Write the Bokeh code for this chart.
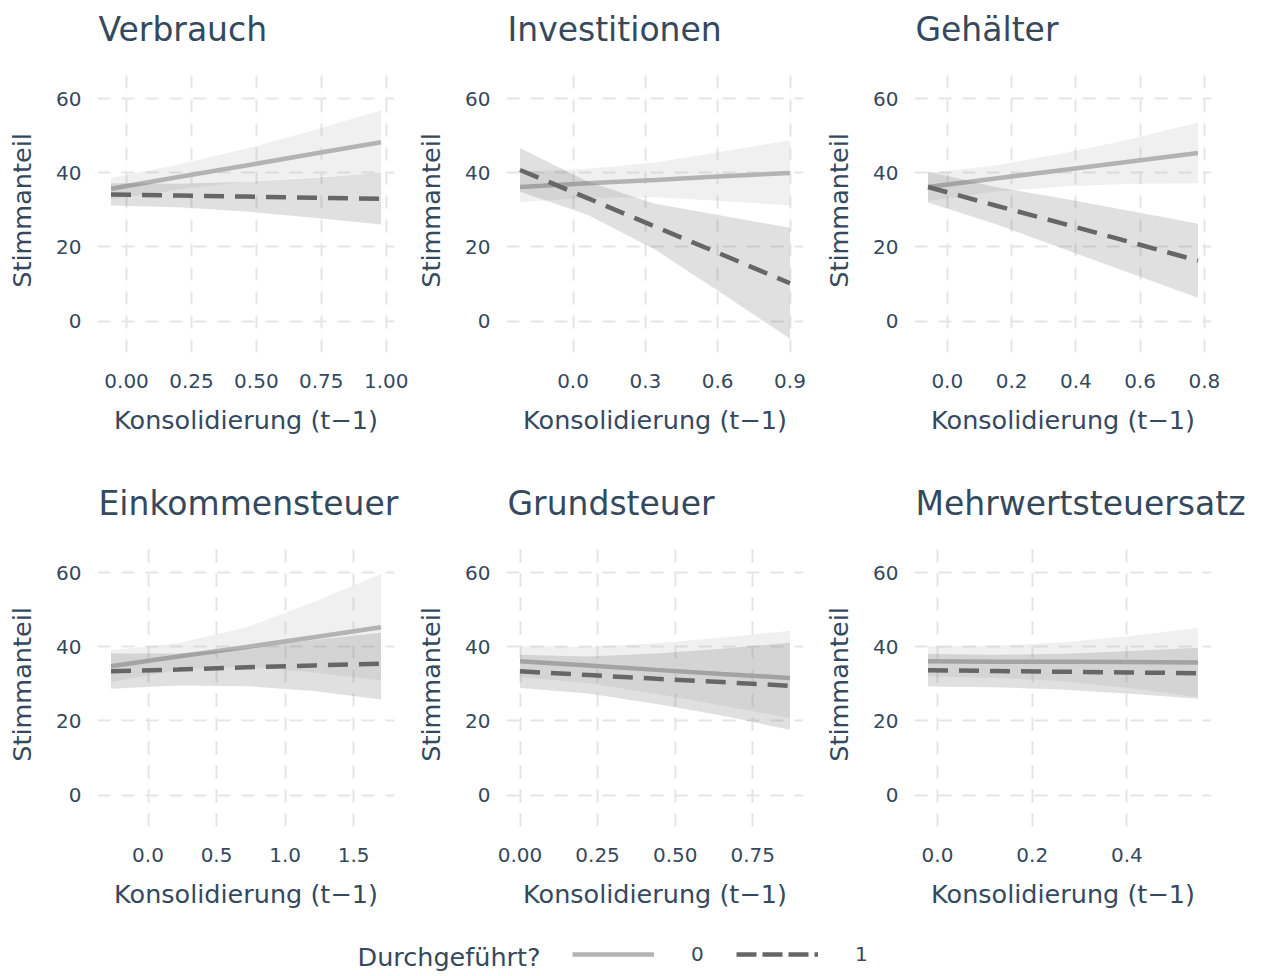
from bokeh.plotting import figure
from bokeh.layouts import row, column
from bokeh.models import Range1d, FixedTicker, Legend, LegendItem, Label, Title
from bokeh.embed import file_html
from bokeh.resources import INLINE

FONT = "DejaVu Sans"
TXT = "#34495E"
C0 = "#B3B3B3"
C1 = "#666666"

# ---------------- data ----------------
titles = ["Verbrauch", "Investitionen", "Gehälter",
          "Einkommensteuer", "Grundsteuer", "Mehrwertsteuersatz"]
group_labels = ["0", "1"]
legend_title = "Durchgeführt?"
x_label = "Konsolidierung (t\u22121)"
y_label = "Stimmanteil"

y_ticks = [0, 20, 40, 60]

# Verbrauch
x_verb = [-0.06, 0.20, 0.46, 0.72, 0.98]
fit0_verb = [35.7, 38.9, 42.0, 45.2, 48.3]
lo0_verb = [32.8, 35.5, 37.7, 38.9, 39.7]
hi0_verb = [38.6, 42.3, 46.5, 51.5, 56.9]
fit1_verb = [34.2, 33.9, 33.6, 33.3, 33.0]
lo1_verb = [31.2, 30.7, 29.6, 27.9, 26.1]
hi1_verb = [37.2, 37.1, 37.6, 38.7, 39.9]
ticks_verb = [0, 0.25, 0.5, 0.75, 1.0]
labels_verb = ["0.00", "0.25", "0.50", "0.75", "1.00"]

# Investitionen
x_inv = [-0.22, 0.06, 0.34, 0.62, 0.90]
fit0_inv = [36.2, 37.2, 38.1, 39.1, 40.0]
lo0_inv = [32.1, 33.3, 33.4, 32.4, 31.2]
hi0_inv = [40.3, 41.1, 42.8, 45.8, 48.8]
fit1_inv = [40.8, 33.2, 25.5, 17.9, 10.2]
lo1_inv = [34.9, 28.7, 19.3, 7.4, -4.8]
hi1_inv = [46.7, 37.7, 31.7, 28.4, 25.2]
ticks_inv = [0, 0.3, 0.6, 0.9]
labels_inv = ["0.0", "0.3", "0.6", "0.9"]

# Gehälter
x_geh = [-0.06, 0.15, 0.36, 0.57, 0.78]
fit0_geh = [36.2, 38.5, 40.8, 43.1, 45.4]
lo0_geh = [32.4, 35.0, 36.3, 37.1, 37.2]
hi0_geh = [40.0, 42.0, 45.3, 49.1, 53.6]
fit1_geh = [36.2, 31.2, 26.3, 21.3, 16.3]
lo1_geh = [32.0, 26.2, 19.5, 12.9, 6.3]
hi1_geh = [40.4, 36.2, 33.1, 29.7, 26.3]
ticks_geh = [0, 0.2, 0.4, 0.6, 0.8]
labels_geh = ["0.0", "0.2", "0.4", "0.6", "0.8"]

# Einkommensteuer
x_ek = [-0.27, 0.22, 0.72, 1.21, 1.70]
fit0_ek = [34.8, 37.4, 40.0, 42.6, 45.3]
lo0_ek = [30.5, 33.8, 34.7, 33.1, 30.9]
hi0_ek = [39.1, 41.0, 45.3, 52.1, 59.7]
fit1_ek = [33.4, 33.9, 34.5, 35.0, 35.5]
lo1_ek = [28.7, 29.6, 29.4, 28.1, 25.8]
hi1_ek = [38.2, 38.2, 39.6, 41.9, 43.8]
ticks_ek = [0, 0.5, 1.0, 1.5]
labels_ek = ["0.0", "0.5", "1.0", "1.5"]

# Grundsteuer
x_gr = [0.00, 0.22, 0.44, 0.65, 0.87]
fit0_gr = [36.1, 35.0, 33.8, 32.7, 31.6]
lo0_gr = [31.9, 30.2, 27.3, 24.2, 20.8]
hi0_gr = [40.3, 40.0, 41.0, 42.5, 44.4]
fit1_gr = [33.4, 32.4, 31.4, 30.5, 29.5]
lo1_gr = [28.9, 27.4, 24.6, 21.5, 17.6]
hi1_gr = [37.9, 37.4, 38.2, 39.5, 41.1]
ticks_gr = [0, 0.25, 0.5, 0.75]
labels_gr = ["0.00", "0.25", "0.50", "0.75"]

# Mehrwertsteuersatz
x_mw = [-0.02, 0.12, 0.26, 0.40, 0.55]
fit0_mw = [36.1, 36.0, 36.0, 35.9, 35.8]
lo0_mw = [32.0, 31.7, 30.8, 29.0, 26.5]
hi0_mw = [40.2, 40.3, 41.2, 42.8, 45.1]
fit1_mw = [33.7, 33.5, 33.3, 33.1, 32.9]
lo1_mw = [29.3, 29.1, 28.5, 27.4, 26.0]
hi1_mw = [38.1, 37.9, 38.1, 38.8, 39.8]
ticks_mw = [0, 0.2, 0.4]
labels_mw = ["0.0", "0.2", "0.4"]

Y_MIN, Y_MAX = -8.5, 68.2
FW, FH = 297, 284


def make_panel(title, xs, fit0, lo0, hi0, fit1, lo1, hi1, ticks, labels,
               col, rowi):
    span = max(xs) - min(xs)
    xr = Range1d(min(xs) - 0.05 * span, max(xs) + 0.05 * span)
    left = [97, 96, 96][col]
    right = [16, 15, 53][col]
    top = 68 if rowi == 0 else 62
    bottom = 128 if rowi == 0 else 90
    p = figure(frame_width=FW, frame_height=FH, x_range=xr,
               y_range=Range1d(Y_MIN, Y_MAX),
               output_backend="svg", toolbar_location=None,
               min_border_left=left, min_border_right=right,
               min_border_top=top, min_border_bottom=bottom)
    p.outline_line_color = None
    p.background_fill_color = "white"

    # panel title: a blank spacer title next to the frame, the visible title above it
    p.add_layout(Title(text=" ", text_font_size="1px", standoff=17), "above")
    p.add_layout(Title(text=title, text_font=FONT, text_font_size="33px",
                       text_font_style="normal", text_color=TXT,
                       align="left", vertical_align="bottom",
                       standoff=0, offset=1), "above")

    # ribbons + lines (group 0, then group 1)
    p.varea(x=xs, y1=lo0, y2=hi0, fill_color=C0, fill_alpha=0.2)
    p.line(x=xs, y=fit0, line_color=C0, line_width=4.5)
    p.varea(x=xs, y1=lo1, y2=hi1, fill_color=C1, fill_alpha=0.2)
    p.line(x=xs, y=fit1, line_color=C1, line_width=4.5, line_dash="20 11")

    # axes
    p.xaxis.ticker = FixedTicker(ticks=ticks)
    p.xaxis.major_label_overrides = {t: l for t, l in zip(ticks, labels)}
    p.yaxis.ticker = FixedTicker(ticks=y_ticks)
    p.xaxis.axis_label = x_label
    p.yaxis.axis_label = y_label
    for ax in (p.xaxis[0], p.yaxis[0]):
        ax.axis_line_color = None
        ax.major_tick_line_color = None
        ax.minor_tick_line_color = None
        ax.major_tick_out = 0
        ax.major_tick_in = 0
        ax.major_label_text_font = FONT
        ax.major_label_text_font_size = "20px"
        ax.major_label_text_color = TXT
        ax.axis_label_text_font = FONT
        ax.axis_label_text_font_size = "25.5px"
        ax.axis_label_text_font_style = "normal"
        ax.axis_label_text_color = TXT
    p.xaxis.major_label_standoff = 21
    p.xaxis.axis_label_standoff = 14
    p.yaxis.major_label_standoff = 16
    p.yaxis.axis_label_standoff = 16

    p.grid.grid_line_color = "#E5E5E5"
    p.grid.grid_line_width = 2
    p.grid.grid_line_dash = "13 11"
    p.grid.minor_grid_line_color = None
    return p


panels = [
    (titles[0], x_verb, fit0_verb, lo0_verb, hi0_verb, fit1_verb, lo1_verb, hi1_verb, ticks_verb, labels_verb),
    (titles[1], x_inv, fit0_inv, lo0_inv, hi0_inv, fit1_inv, lo1_inv, hi1_inv, ticks_inv, labels_inv),
    (titles[2], x_geh, fit0_geh, lo0_geh, hi0_geh, fit1_geh, lo1_geh, hi1_geh, ticks_geh, labels_geh),
    (titles[3], x_ek, fit0_ek, lo0_ek, hi0_ek, fit1_ek, lo1_ek, hi1_ek, ticks_ek, labels_ek),
    (titles[4], x_gr, fit0_gr, lo0_gr, hi0_gr, fit1_gr, lo1_gr, hi1_gr, ticks_gr, labels_gr),
    (titles[5], x_mw, fit0_mw, lo0_mw, hi0_mw, fit1_mw, lo1_mw, hi1_mw, ticks_mw, labels_mw),
]

figs = []
for i, args in enumerate(panels):
    figs.append(make_panel(*args, col=i % 3, rowi=i // 3))

# ---------------- legend strip ----------------
LW, LH = 1264, 60
leg = figure(width=LW, height=LH, x_range=Range1d(0, LW), y_range=Range1d(0, LH),
             output_backend="svg", toolbar_location=None,
             x_axis_location=None, y_axis_location=None, min_border=0)
leg.grid.visible = False
leg.outline_line_color = None
# legend key renderers (their points lie outside the visible strip)
r0 = leg.line(x=[-50, -40], y=[-50, -50], line_color=C0, line_width=4.5)
r1 = leg.line(x=[-50, -40], y=[-50, -50], line_color=C1, line_width=4.5,
              line_dash="20 6")
legend = Legend(items=[LegendItem(label=group_labels[0], renderers=[r0]),
                       LegendItem(label=group_labels[1], renderers=[r1])],
                orientation="horizontal", location=(572, 10),
                glyph_width=82, glyph_height=20, label_standoff=37, spacing=25,
                padding=0, margin=0, border_line_color=None,
                background_fill_alpha=0,
                label_text_font=FONT, label_text_font_size="20px",
                label_text_color=TXT)
leg.add_layout(legend)
leg.add_layout(Label(x=357, y=20, text=legend_title, text_font=FONT,
                     text_font_size="25.5px", text_color=TXT,
                     text_baseline="middle"))

layout = column(row(*figs[:3]), row(*figs[3:]), leg)

open("out.html", "w").write(file_html(layout, INLINE))
